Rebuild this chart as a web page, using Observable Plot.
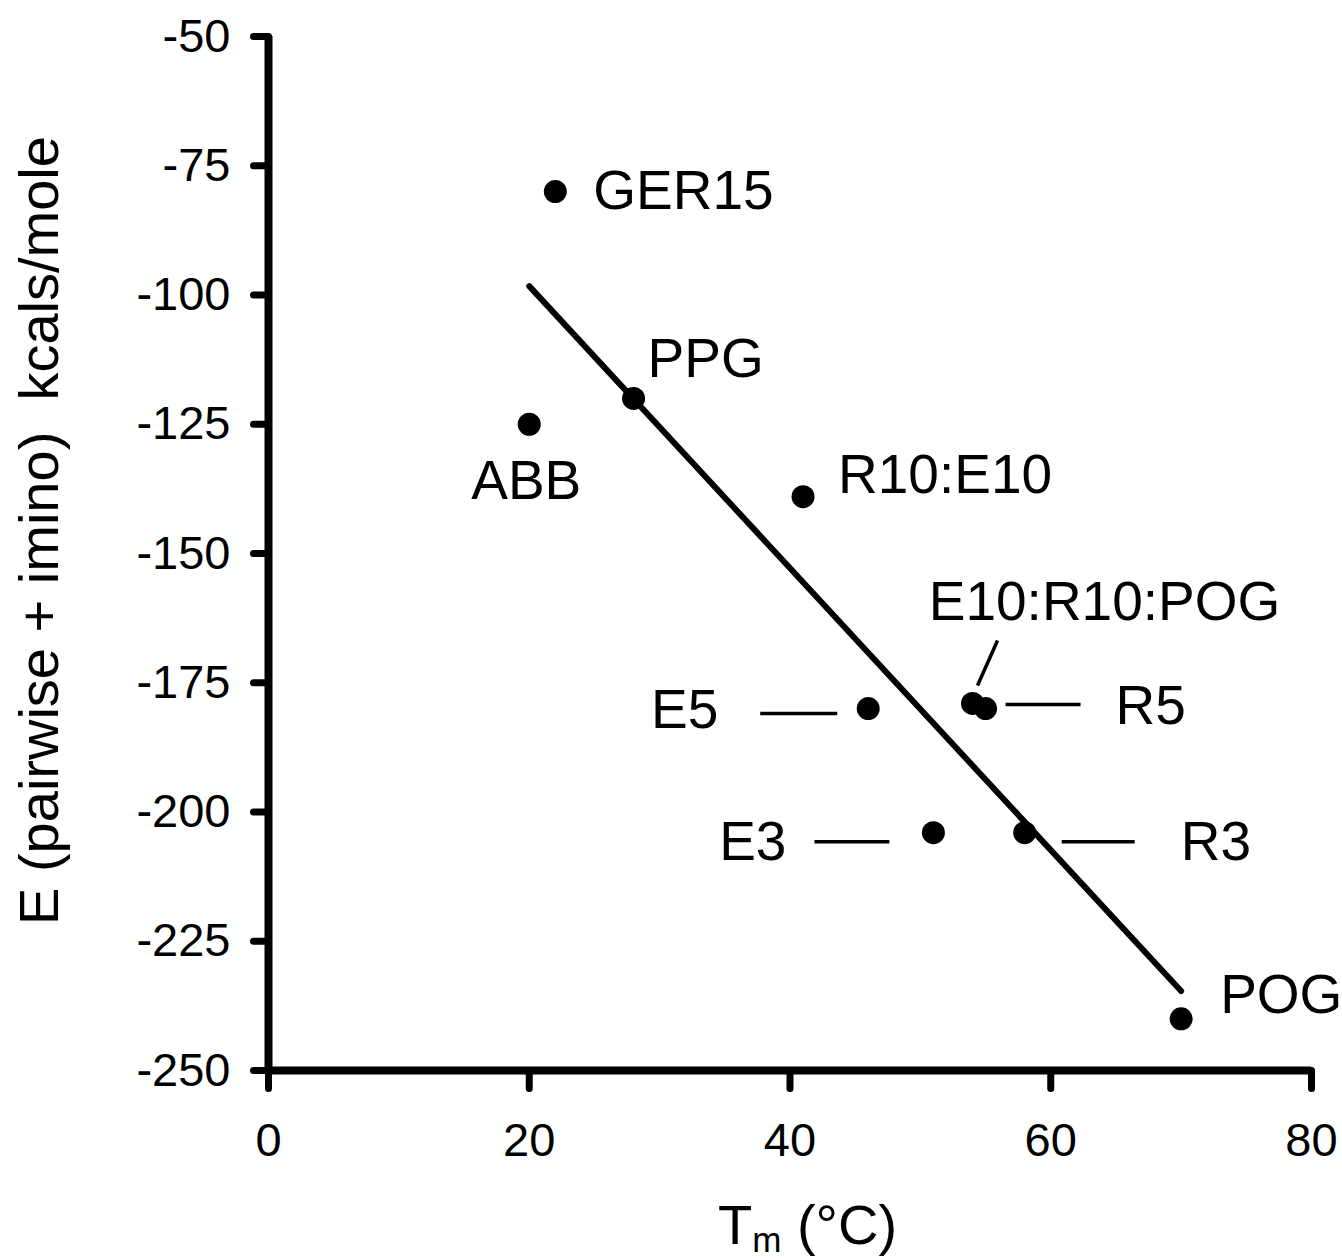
<!DOCTYPE html>
<html>
<head>
<meta charset="utf-8">
<script src="https://cdn.jsdelivr.net/npm/d3@7"></script>
<script src="https://cdn.jsdelivr.net/npm/@observablehq/plot@0.6"></script>
<style>
  html, body { margin: 0; padding: 0; background: #fff; }
  #chart svg { display: block; }
  #chart svg text { white-space: pre; }
</style>
</head>
<body>
<div id="chart"></div>
<script>
// ---- data ----
const names  = ["GER15", "PPG", "ABB", "R10:E10", "E10:R10:POG", "E5", "R5", "E3", "R3", "POG"];
const tm     = [22, 28, 20, 41, 54, 46, 55, 51, 58, 70];
const energy = [-80, -120, -125, -139, -179, -180, -180, -204, -204, -240];
const xTicks = [0, 20, 40, 60, 80];
const yTicks = [-50, -75, -100, -125, -150, -175, -200, -225, -250];
const xTitleMain = "T", xTitleSub = "m", xTitleUnit = " (°C)";
const xTitle = xTitleMain + xTitleSub + xTitleUnit;
const yTitle = "E (pairwise + imino)  kcals/mole";

const points = names.map((n, i) => ({name: n, tm: tm[i], energy: energy[i]}));

// ---- layout ----
const W = 1342, H = 1260;
const M = {top: 36, right: 31, bottom: 190, left: 268};
const font = "'Liberation Sans', Arial, Helvetica, sans-serif";
const xTickLen = 18, yTickLen = 15;

// label offsets in pixels relative to each dot
const labelLayout = {
  "GER15":       {dx: 38,   dy: 0,    anchor: "start"},
  "PPG":         {dx: 14,   dy: -39,  anchor: "start"},
  "ABB":         {dx: -3,   dy: 57,   anchor: "middle"},
  "R10:E10":     {dx: 35,   dy: -21,  anchor: "start"},
  "E10:R10:POG": {dx: 132,  dy: -101, anchor: "middle"},
  "E5":          {dx: -150, dy: 2,    anchor: "end"},
  "R5":          {dx: 130,  dy: -2,   anchor: "start"},
  "E3":          {dx: -147, dy: 10,   anchor: "end"},
  "R3":          {dx: 156,  dy: 10,   anchor: "start"},
  "POG":         {dx: 39,   dy: -23,  anchor: "start"}
};
// leader line ends in pixels relative to each dot
const leaderLayout = [
  {name: "E10:R10:POG", from: [5, -18],   to: [25, -63]},
  {name: "E5",          from: [-108, 5],  to: [-31, 5]},
  {name: "R5",          from: [20, -4],   to: [95, -4]},
  {name: "E3",          from: [-119, 9],  to: [-44, 9]},
  {name: "R3",          from: [37, 9],    to: [110, 9]}
];

const xDomain = [0, 80], yDomain = [-250, -50];
const xs = Plot.scale({x: {domain: xDomain, range: [M.left, W - M.right]}});
const ys = Plot.scale({y: {domain: yDomain, range: [H - M.bottom, M.top]}});
const leaders = leaderLayout.map(l => {
  const p = points.find(d => d.name === l.name);
  const px = xs.apply(p.tm), py = ys.apply(p.energy);
  return {
    x1: xs.invert(px + l.from[0]), y1: ys.invert(py + l.from[1]),
    x2: xs.invert(px + l.to[0]),   y2: ys.invert(py + l.to[1])
  };
});
// tick marks (outward from the axis lines)
const xTickEnd = ys.invert(ys.apply(yDomain[0]) + xTickLen);
const yTickEnd = xs.invert(xs.apply(xDomain[0]) - yTickLen);

const labelMarks = names.map(n => {
  const L = labelLayout[n];
  return Plot.text(points.filter(d => d.name === n), {
    x: "tm", y: "energy", text: "name",
    dx: L.dx, dy: L.dy, textAnchor: L.anchor, lineAnchor: "middle",
    fontSize: 55, fontFamily: font, fill: "black"
  });
});

const plot = Plot.plot({
  width: W, height: H,
  marginTop: M.top, marginRight: M.right, marginBottom: M.bottom, marginLeft: M.left,
  style: {fontFamily: font, color: "black", background: "white", overflow: "visible"},
  x: {domain: xDomain, label: null},
  y: {domain: yDomain, label: null},
  marks: [
    Plot.axisX({ticks: xTicks, tickFormat: d => String(d), tickSize: 0, tickPadding: 52,
      fontSize: 47, fontFamily: font, label: null}),
    Plot.axisY({ticks: yTicks, tickFormat: d => String(d), tickSize: 0, tickPadding: 38,
      fontSize: 47, fontFamily: font, label: null}),
    Plot.link(xTicks, {x1: d => d, x2: d => d, y1: () => yDomain[0], y2: () => xTickEnd,
      stroke: "black", strokeWidth: 7, strokeLinecap: "round"}),
    Plot.link(yTicks, {y1: d => d, y2: d => d, x1: () => xDomain[0], x2: () => yTickEnd,
      stroke: "black", strokeWidth: 7, strokeLinecap: "round"}),
    Plot.ruleX([0], {stroke: "black", strokeWidth: 8}),
    Plot.ruleY([-250], {stroke: "black", strokeWidth: 8}),
    Plot.linearRegressionY(points, {x: "tm", y: "energy", ci: 0, stroke: "black", strokeWidth: 6}),
    Plot.link(leaders, {x1: "x1", y1: "y1", x2: "x2", y2: "y2", stroke: "black", strokeWidth: 3.5}),
    Plot.dot(points, {x: "tm", y: "energy", r: 11.5, fill: "black", stroke: "none"}),
    ...labelMarks,
    Plot.text([yTitle], {text: d => d, frameAnchor: "left", rotate: -90, dx: -228, dy: -23,
      textAnchor: "middle", lineAnchor: "middle", fontSize: 56, fontFamily: font, fill: "black"}),
    Plot.text([xTitle], {text: d => d, frameAnchor: "bottom", dx: -72, dy: 173,
      textAnchor: "start", lineAnchor: "bottom", fontSize: 56, fontFamily: font, fill: "black"})
  ]
});

// subscript for the x-axis title
d3.select(plot).selectAll("text")
  .filter(function() { return this.textContent === xTitle; })
  .each(function() {
    const t = d3.select(this);
    t.selectAll("*").remove();
    t.text(null);
    t.append("tspan").text(xTitleMain);
    t.append("tspan").attr("font-size", 35).attr("dy", 8).text(xTitleSub);
    t.append("tspan").attr("dy", -8).text(xTitleUnit);
  });

document.getElementById("chart").appendChild(plot);
</script>
</body>
</html>
